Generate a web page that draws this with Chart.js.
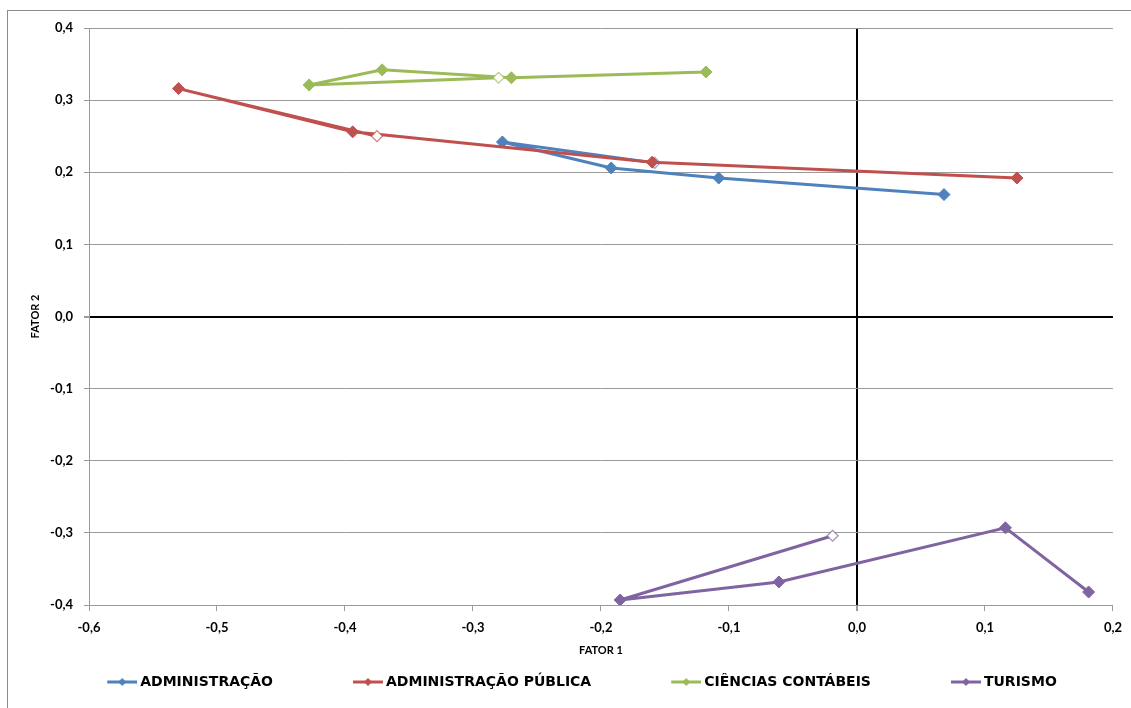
<!DOCTYPE html>
<html>
<head>
<meta charset="utf-8">
<script src="https://cdn.jsdelivr.net/npm/chart.js@4.4.1/dist/chart.umd.min.js"></script>
<style>
  html, body { margin: 0; padding: 0; background: #fff; }
  #frame { position: absolute; left: 7px; top: 10px; right: 0; bottom: 0;
           border-top: 1px solid #8c8c8c; border-left: 1px solid #8c8c8c; }
  #wrap { position: absolute; left: 0; top: 0; width: 1131px; height: 708px; }
</style>
</head>
<body>
<div id="frame"></div>
<div id="wrap"><canvas id="c" width="1131" height="708"></canvas></div>
<script>
// --- Daten (erster Punkt jeder Reihe = hohler Marker) ---
const seriesNames = ["ADMINISTRAÇÃO", "ADMINISTRAÇÃO PÚBLICA", "CIÊNCIAS CONTÁBEIS", "TURISMO"];
const seriesColors = ["#4f81bd", "#c0504d", "#9bbb59", "#8064a2"];

const admX = [-0.158, -0.277, -0.192, -0.108, 0.068];
const admY = [0.213, 0.242, 0.206, 0.192, 0.169];

const admPubX = [-0.375, -0.530, -0.394, -0.160, 0.125];
const admPubY = [0.250, 0.316, 0.256, 0.214, 0.192];

const contX = [-0.280, -0.428, -0.371, -0.270, -0.118];
const contY = [0.331, 0.321, 0.342, 0.331, 0.339];

const turX = [-0.019, -0.185, -0.061, 0.116, 0.181];
const turY = [-0.304, -0.393, -0.368, -0.293, -0.382];

const xTicksMin = -0.6, xTicksMax = 0.2;
const yTicksMin = -0.4, yTicksMax = 0.4;

const FONT = "Lato, 'Open Sans', sans-serif";
const LEGEND_FONT = "'DejaVu Sans', sans-serif";
const fmt = (v) => (Math.abs(v) < 1e-9 ? 0 : v).toFixed(1).replace(".", ",");
const isZero = (v) => Math.abs(v) < 1e-9;

const toPoints = (xs, ys) => xs.map((x, i) => ({ x, y: ys[i] }));

// Legenden-Symbol: Linie mit Raute, rechtsbündig in einer breiten Box (Box dient als Abstand)
const ICON_BOX = 91;
const legendIcon = (color) => {
  const c = document.createElement("canvas");
  c.width = ICON_BOX + 8; c.height = 10;
  const g = c.getContext("2d");
  const x1 = c.width, x0 = x1 - 30, xm = (x0 + x1) / 2;
  g.strokeStyle = color; g.lineWidth = 3;
  g.beginPath(); g.moveTo(x0, 5); g.lineTo(x1, 5); g.stroke();
  g.fillStyle = color;
  g.beginPath(); g.moveTo(xm, 1); g.lineTo(xm + 4, 5); g.lineTo(xm, 9); g.lineTo(xm - 4, 5); g.closePath(); g.fill();
  return c;
};
const icons = seriesColors.map(legendIcon);

const makeDataset = (i, xs, ys) => {
  const col = seriesColors[i];
  return {
    label: seriesNames[i],
    data: toPoints(xs, ys),
    showLine: true,
    borderColor: col,
    borderWidth: 3,
    pointStyle: "rectRot",
    pointRadius: xs.map((_, k) => (k === 0 ? 5.5 : 6)),
    pointBackgroundColor: xs.map((_, k) => (k === 0 ? "#fff" : col)),
    pointBorderColor: xs.map((_, k) => (k === 0 ? col + "bb" : col)),
    pointBorderWidth: xs.map((_, k) => (k === 0 ? 1.2 : 1)),
    order: 4 - i,
  };
};

const datasets = [
  makeDataset(0, admX, admY),
  makeDataset(1, admPubX, admPubY),
  makeDataset(2, contX, contY),
  makeDataset(3, turX, turY),
];

// linker Rand negativ, damit die zentrierte Legende etwas nach links rückt
const PAD_LEFT = -17;

new Chart(document.getElementById("c").getContext("2d"), {
  type: "scatter",
  data: { datasets },
  options: {
    responsive: false,
    animation: false,
    layout: { padding: { left: PAD_LEFT, top: 28, right: 15, bottom: 9 } },
    plugins: {
      tooltip: { enabled: false },
      legend: {
        position: "bottom",
        labels: {
          usePointStyle: true,
          pointStyleWidth: ICON_BOX,
          padding: 15,
          color: "#000",
          font: { family: LEGEND_FONT, size: 14, weight: "bold" },
          generateLabels: (chart) => chart.data.datasets.map((ds, i) => ({
            text: ds.label,
            pointStyle: icons[i],
            fillStyle: seriesColors[i],
            strokeStyle: seriesColors[i],
            lineWidth: 0,
            hidden: false,
            datasetIndex: i,
            fontColor: "#000",
          })),
        },
      },
    },
    scales: {
      x: {
        type: "linear",
        min: xTicksMin,
        max: xTicksMax,
        afterFit: (s) => { s.height = 55; },
        ticks: {
          stepSize: 0.1,
          padding: 9,
          color: "#000",
          font: { family: FONT, size: 13, weight: "bold" },
          callback: (v) => fmt(v),
        },
        grid: {
          color: (ctx) => (isZero(ctx.tick.value) ? "#000" : "rgba(0,0,0,0)"),
          lineWidth: (ctx) => (isZero(ctx.tick.value) ? 2 : 1),
          tickColor: "#9a9a9a",
          tickLength: 6,
        },
        border: { color: "#9a9a9a", width: 1 },
        title: {
          display: true,
          text: "FATOR 1",
          color: "#000",
          font: { family: FONT, size: 11, weight: "bold" },
          padding: { top: 0, bottom: 3 },
        },
      },
      y: {
        type: "linear",
        min: yTicksMin,
        max: yTicksMax,
        afterFit: (s) => { s.width = 89 - PAD_LEFT; },
        ticks: {
          stepSize: 0.1,
          padding: 11,
          color: "#000",
          font: { family: FONT, size: 13, weight: "bold" },
          callback: (v) => fmt(v),
        },
        grid: {
          color: (ctx) => (isZero(ctx.tick.value) ? "#000" : "#9a9a9a"),
          lineWidth: (ctx) => (isZero(ctx.tick.value) ? 2 : 1),
          tickColor: "#9a9a9a",
          tickLength: 5,
        },
        border: { color: "#9a9a9a", width: 1 },
        title: {
          display: true,
          text: "FATOR 2",
          color: "#000",
          font: { family: FONT, size: 11, weight: "bold" },
          padding: { top: 29 - PAD_LEFT, bottom: 0 },
        },
      },
    },
  },
});
</script>
</body>
</html>
